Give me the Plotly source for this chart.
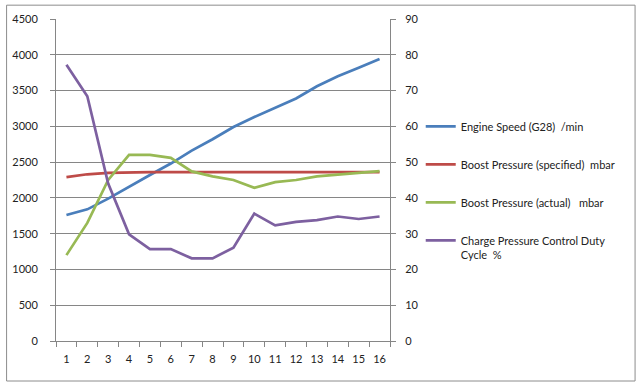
import plotly.graph_objects as go

categories = [str(i) for i in range(1, 17)]
engine_speed = [1760, 1840, 1990, 2160, 2320, 2480, 2660, 2820, 2990, 3130, 3260, 3390, 3560, 3700, 3820, 3940]
boost_specified = [2290, 2330, 2350, 2360, 2360, 2360, 2360, 2360, 2360, 2360, 2360, 2360, 2360, 2360, 2360, 2360]
boost_actual = [1200, 1650, 2250, 2600, 2600, 2560, 2370, 2300, 2250, 2140, 2220, 2250, 2300, 2320, 2350, 2375]
duty_cycle = [77.2, 68.4, 44.0, 29.8, 25.7, 25.7, 23.1, 23.1, 26.1, 35.6, 32.3, 33.3, 33.8, 34.8, 34.1, 34.8]

names = [
    "Engine Speed (G28) \u00a0/min",
    "Boost Pressure (specified) \u00a0mbar",
    "Boost Pressure (actual) \u00a0 mbar",
    "Charge Pressure Control Duty<br>Cycle \u00a0%",
]
colors = ["#4A7EBB", "#BE4B48", "#98B954", "#7D60A0"]

FONT = "Lato"
fig = go.Figure()
series = [engine_speed, boost_specified, boost_actual]
for i, s in enumerate(series):
    fig.add_trace(go.Scatter(x=categories, y=s, mode="lines", name=names[i],
                             line=dict(color=colors[i], width=2.7), legendgroup=f"g{i}"))
fig.add_trace(go.Scatter(x=categories, y=duty_cycle, mode="lines", name=names[3],
                         line=dict(color=colors[3], width=2.7), yaxis="y2", legendgroup="g3"))

axis_color = "#868686"
fig.update_layout(
    width=640, height=384,
    margin=dict(l=52, r=250, t=15, b=43),
    paper_bgcolor="white", plot_bgcolor="white",
    font=dict(family=FONT, size=11, color="#222222"),
    xaxis=dict(type="category", categoryorder="array", categoryarray=categories,
               range=[-0.5, 15.5], tickangle=0,
               showgrid=False, showline=True, linecolor=axis_color, linewidth=1,
               ticks="outside", tickson="boundaries", ticklen=5, tickcolor=axis_color,
               tickfont=dict(size=11), zeroline=False, ticklabelstandoff=8),
    yaxis=dict(range=[0, 4500], dtick=500, showgrid=True, gridcolor=axis_color, gridwidth=1,
               showline=True, linecolor=axis_color, ticks="outside", ticklen=5,
               tickcolor=axis_color, zeroline=False, tickfont=dict(size=11),
               ticklabelstandoff=10),
    yaxis2=dict(range=[0, 90], dtick=10, overlaying="y", side="right", showgrid=False,
                showline=True, linecolor=axis_color, ticks="outside", ticklen=5,
                tickcolor=axis_color, zeroline=False, tickfont=dict(size=11),
                ticklabelstandoff=7),
    legend=dict(x=1.092, xanchor="left", y=0.709, yanchor="top", tracegroupgap=19,
                valign="top", font=dict(size=11), bgcolor="rgba(0,0,0,0)"),
    shapes=[dict(type="rect", xref="paper", yref="paper",
                 x0=(2 - 52) / 338, x1=(638 - 52) / 338,
                 y0=(341 - 381.5) / 326, y1=(341 - 1) / 326,
                 line=dict(color="#8c8c8c", width=1), fillcolor="rgba(0,0,0,0)")],
)

fig.write_html("out.html", config={"displayModeBar": False},
               post_script="document.body.style.margin='0';document.body.style.overflow='hidden';")
